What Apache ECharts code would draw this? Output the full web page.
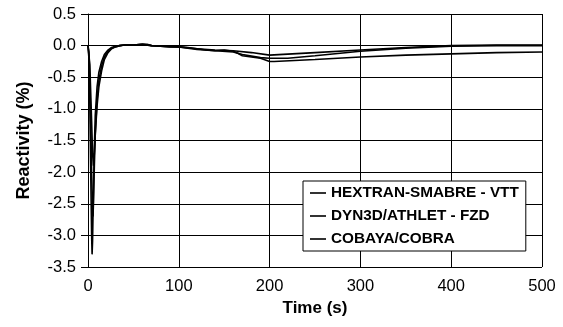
<!DOCTYPE html>
<html>
<head>
<meta charset="utf-8">
<script src="https://cdn.jsdelivr.net/npm/echarts@6/dist/echarts.min.js"></script>
<style>
  html, body { margin: 0; padding: 0; background: #fff; }
  #chart { width: 563px; height: 327px; }
</style>
</head>
<body>
<div id="chart"></div>
<script>
// series names as in the legend
const seriesNames = ["HEXTRAN-SMABRE - VTT", "DYN3D/ATHLET - FZD", "COBAYA/COBRA"];

// HEXTRAN-SMABRE - VTT
const timeHextran = [0, 1, 2, 3, 4, 4.5, 5, 6, 7, 8, 10, 12, 15, 18, 22, 26, 30, 35, 40, 50, 60, 65, 70, 80, 90, 100, 110, 120, 130, 140, 150, 160, 165, 170, 180, 190, 200, 205, 250, 300, 350, 400, 450, 500];
const valueHextran = [0, -0.2, -0.9, -2.0, -3.0, -3.3, -3.1, -2.3, -1.6, -1.1, -0.65, -0.42, -0.25, -0.14, -0.07, -0.03, -0.01, 0, 0.01, 0.01, 0.02, 0.02, 0, -0.01, -0.02, -0.02, -0.03, -0.05, -0.07, -0.08, -0.07, -0.09, -0.12, -0.16, -0.18, -0.2, -0.25, -0.25, -0.22, -0.18, -0.15, -0.13, -0.11, -0.1];

// DYN3D/ATHLET - FZD
const timeDyn3d = [0, 1, 2, 3, 4, 5, 5.5, 6, 7, 8, 10, 12, 15, 18, 22, 26, 30, 35, 40, 50, 60, 70, 80, 100, 120, 140, 160, 180, 200, 250, 300, 350, 400, 450, 500];
const valueDyn3d = [0, -0.1, -0.5, -1.2, -2.0, -2.6, -2.7, -2.5, -1.9, -1.4, -0.85, -0.55, -0.32, -0.18, -0.09, -0.04, -0.02, 0, 0.01, 0.01, 0.02, 0, -0.01, -0.02, -0.05, -0.07, -0.08, -0.11, -0.15, -0.11, -0.07, -0.03, 0, 0.01, 0.01];

// COBAYA/COBRA
const timeCobaya = [0, 2, 4, 5, 6, 7, 8, 10, 12, 15, 18, 22, 26, 30, 35, 40, 50, 60, 70, 80, 100, 120, 140, 160, 170, 190, 200, 220, 250, 300, 350, 400, 450, 500];
const valueCobaya = [0, -0.3, -1.2, -1.7, -1.9, -1.7, -1.4, -0.95, -0.65, -0.4, -0.22, -0.11, -0.05, -0.02, 0, 0.01, 0.01, 0.02, 0, -0.01, -0.02, -0.06, -0.08, -0.1, -0.14, -0.19, -0.2, -0.2, -0.16, -0.09, -0.04, -0.01, 0, 0];

// axis ticks
const xTicks = [0, 100, 200, 300, 400, 500];
const yTicks = [-3.5, -3.0, -2.5, -2.0, -1.5, -1.0, -0.5, 0.0, 0.5];

const font = "'Liberation Sans', Arial, sans-serif";

const toPairs = (ts, vs) => ts.map((t, i) => [t, vs[i]]);
const seriesData = [
  toPairs(timeHextran, valueHextran),
  toPairs(timeDyn3d, valueDyn3d),
  toPairs(timeCobaya, valueCobaya),
];

const chart = echarts.init(document.getElementById("chart"), null, { renderer: "canvas" });

const series = seriesNames.map((name, i) => ({
  name: name,
  type: "line",
  data: seriesData[i],
  showSymbol: false,
  symbol: "none",
  lineStyle: { color: "#000", width: 1.6 },
  itemStyle: { color: "#000" },
  z: 3 + i,
}));

chart.setOption({
  animation: false,
  backgroundColor: "#fff",
  grid: { left: 88, right: 21, top: 14, bottom: 60, containLabel: false },
  xAxis: {
    type: "value",
    min: xTicks[0],
    max: xTicks[xTicks.length - 1],
    interval: xTicks[1] - xTicks[0],
    name: "Time (s)",
    nameLocation: "middle",
    nameGap: 32,
    nameTextStyle: { fontFamily: font, fontSize: 17, fontWeight: "bold", color: "#000" },
    axisLine: { show: true, lineStyle: { color: "#000", width: 1 } },
    axisTick: { show: false },
    axisLabel: { fontFamily: font, fontSize: 16.5, color: "#000", margin: 11 },
    splitLine: { show: true, lineStyle: { color: "#000", width: 1 } },
  },
  yAxis: {
    type: "value",
    min: yTicks[0],
    max: yTicks[yTicks.length - 1],
    interval: 0.5,
    name: "Reactivity (%)",
    nameLocation: "middle",
    nameGap: 55,
    nameTextStyle: { fontFamily: font, fontSize: 18, fontWeight: "bold", color: "#000" },
    axisLine: { show: true, lineStyle: { color: "#000", width: 1 } },
    axisTick: { show: true, length: 7, lineStyle: { color: "#000" } },
    axisLabel: {
      fontFamily: font, fontSize: 16.5, color: "#000", margin: 12,
      formatter: (v) => v.toFixed(1),
    },
    splitLine: { show: true, lineStyle: { color: "#000", width: 1 } },
  },
  legend: {
    orient: "vertical",
    left: 303,
    top: 181,
    padding: [3, 7, 3, 7],
    itemGap: 5,
    itemWidth: 16,
    itemHeight: 1.6,
    icon: "rect",
    backgroundColor: "#fff",
    borderColor: "#000",
    borderWidth: 1,
    borderRadius: 0,
    selectedMode: false,
    data: seriesNames.map((n) => ({ name: n, itemStyle: { color: "#000" } })),
    textStyle: { fontFamily: font, fontSize: 15.3, fontWeight: "bold", color: "#000", lineHeight: 18 },
  },
  series: series,
});
</script>
</body>
</html>
